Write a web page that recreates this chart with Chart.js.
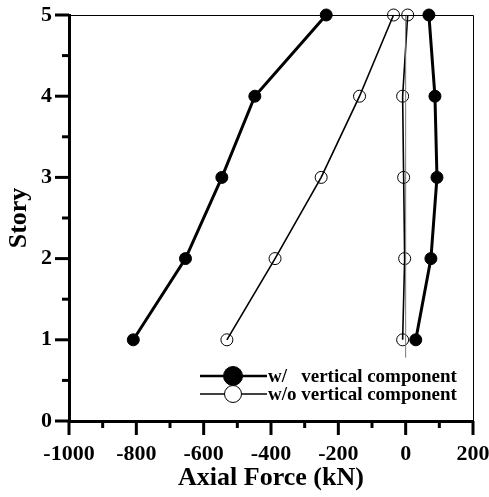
<!DOCTYPE html>
<html>
<head>
<meta charset="utf-8">
<script src="https://cdn.jsdelivr.net/npm/chart.js@4.4.1/dist/chart.umd.min.js"></script>
<style>
  html, body { margin: 0; padding: 0; background: #fff; }
  #wrap { width: 489px; height: 497px; position: relative; }
</style>
</head>
<body>
<div id="wrap"><canvas id="axialChart"></canvas></div>
<script>
// --- data
var stories = [1, 2, 3, 4, 5];
var withVertLeft = [-809, -654, -546, -448, -236];
var withVertRight = [30, 75, 93, 87, 69];
var withoutVertLeft = [-531, -388, -251, -137, -36];
var withoutVertRight = [-9, -3, -6, -9, 6];
var zeroLineX = [0, 0];
var zeroLineY = [0.78, 5];
var xTicks = [-1000, -800, -600, -400, -200, 0, 200];
var yTicks = [0, 1, 2, 3, 4, 5];

var SERIF = '"Liberation Serif", "DejaVu Serif", serif';

function pairs(xs, ys) {
    return xs.map(function (v, i) { return { x: v, y: ys[i] }; });
}

function series(xs, filled) {
    return {
        data: pairs(xs, stories),
        borderColor: '#000',
        borderWidth: filled ? 3 : 1.6,
        pointRadius: 6,
        pointBorderWidth: 1,
        pointBorderColor: '#000',
        pointBackgroundColor: filled ? '#000' : 'rgba(0,0,0,0)',
        showLine: true,
        clip: false
    };
}

// frame, tick marks and the inside legend
var framePlugin = {
    id: 'framePlugin',
    afterDraw: function (chart) {
        var c = chart.ctx, a = chart.chartArea;
        var xs = chart.scales.x, ys = chart.scales.y;
        c.save();
        c.strokeStyle = '#000';
        // thin top & right
        c.lineWidth = 1;
        c.beginPath();
        c.moveTo(a.left, a.top + 0.5);
        c.lineTo(a.right + 0.5, a.top + 0.5);
        c.lineTo(a.right + 0.5, a.bottom);
        c.stroke();
        // ticks
        c.lineWidth = 3;
        xs.ticks.forEach(function (t) {
            var px = xs.getPixelForValue(t.value);
            var len = xTicks.indexOf(t.value) >= 0 ? 14 : 7;
            c.beginPath();
            c.moveTo(px, a.bottom);
            c.lineTo(px, a.bottom + len);
            c.stroke();
        });
        ys.ticks.forEach(function (t) {
            var py = ys.getPixelForValue(t.value);
            var len = yTicks.indexOf(t.value) >= 0 ? 14 : 7;
            c.beginPath();
            c.moveTo(a.left, py);
            c.lineTo(a.left - len, py);
            c.stroke();
        });
        // legend
        var labels = ['w/   vertical component', 'w/o vertical component'];
        var lx = a.left + 131, tx = a.left + 198;
        var rows = [a.bottom - 45, a.bottom - 27];
        c.font = 'bold 19px ' + SERIF;
        c.textBaseline = 'middle';
        c.fillStyle = '#000';
        rows.forEach(function (ry, i) {
            c.lineWidth = i === 0 ? 2.4 : 1.6;
            c.beginPath();
            c.moveTo(lx, ry);
            c.lineTo(tx, ry);
            c.stroke();
            c.beginPath();
            c.arc(a.left + 164, ry, i === 0 ? 9.5 : 8.5, 0, Math.PI * 2);
            c.lineWidth = 1;
            if (i === 0) { c.fill(); }
            else { c.fillStyle = '#fff'; c.fill(); c.fillStyle = '#000'; }
            c.stroke();
            c.fillText(labels[i], tx + 1, ry + 1);
        });
        c.restore();
    }
};

function fixPad(s) {
    s.paddingLeft = 0;
    s.paddingRight = 0;
    s.paddingTop = 0;
    s.paddingBottom = 0;
}

var ctx = document.getElementById('axialChart').getContext('2d');
var axialChart = new Chart(ctx, {
    type: 'scatter',
    data: {
        datasets: [
            {
                data: pairs(zeroLineX, zeroLineY),
                borderColor: '#777',
                borderWidth: 1,
                pointRadius: 0,
                showLine: true,
                clip: false
            },
            series(withoutVertLeft, false),
            series(withoutVertRight, false),
            series(withVertLeft, true),
            series(withVertRight, true)
        ]
    },
    options: {
        responsive: true,
        maintainAspectRatio: false,
        animation: false,
        layout: { padding: { top: 15, right: 16, left: 0, bottom: 0 } },
        plugins: { legend: { display: false }, tooltip: { enabled: false } },
        scales: {
            x: {
                type: 'linear',
                min: -1000,
                max: 200,
                afterFit: function (s) { s.height = 76; fixPad(s); },
                border: { display: true, width: 3, color: '#000' },
                grid: { drawOnChartArea: false, drawTicks: true, tickLength: 14, tickColor: 'rgba(0,0,0,0)' },
                ticks: {
                    stepSize: 100,
                    maxRotation: 0,
                    autoSkip: false,
                    padding: 6,
                    color: '#000',
                    font: { family: SERIF, size: 22, weight: 'bold' },
                    callback: function (v) { return xTicks.indexOf(v) >= 0 ? String(v) : ''; }
                },
                title: {
                    display: true,
                    text: 'Axial Force (kN)',
                    color: '#000',
                    padding: { top: 0, bottom: 3 },
                    font: { family: SERIF, size: 26, weight: 'bold' }
                }
            },
            y: {
                type: 'linear',
                min: 0,
                max: 5,
                afterFit: function (s) { s.width = 69; fixPad(s); },
                border: { display: true, width: 3, color: '#000' },
                grid: { drawOnChartArea: false, drawTicks: true, tickLength: 14, tickColor: 'rgba(0,0,0,0)' },
                ticks: {
                    stepSize: 0.5,
                    autoSkip: false,
                    padding: 3,
                    color: '#000',
                    font: { family: SERIF, size: 22, weight: 'bold' },
                    callback: function (v) { return yTicks.indexOf(v) >= 0 ? String(v) : ''; }
                },
                title: {
                    display: true,
                    text: 'Story',
                    color: '#000',
                    padding: { top: 4, bottom: 0 },
                    font: { family: SERIF, size: 26, weight: 'bold' }
                }
            }
        }
    },
    plugins: [framePlugin]
});
</script>
</body>
</html>
